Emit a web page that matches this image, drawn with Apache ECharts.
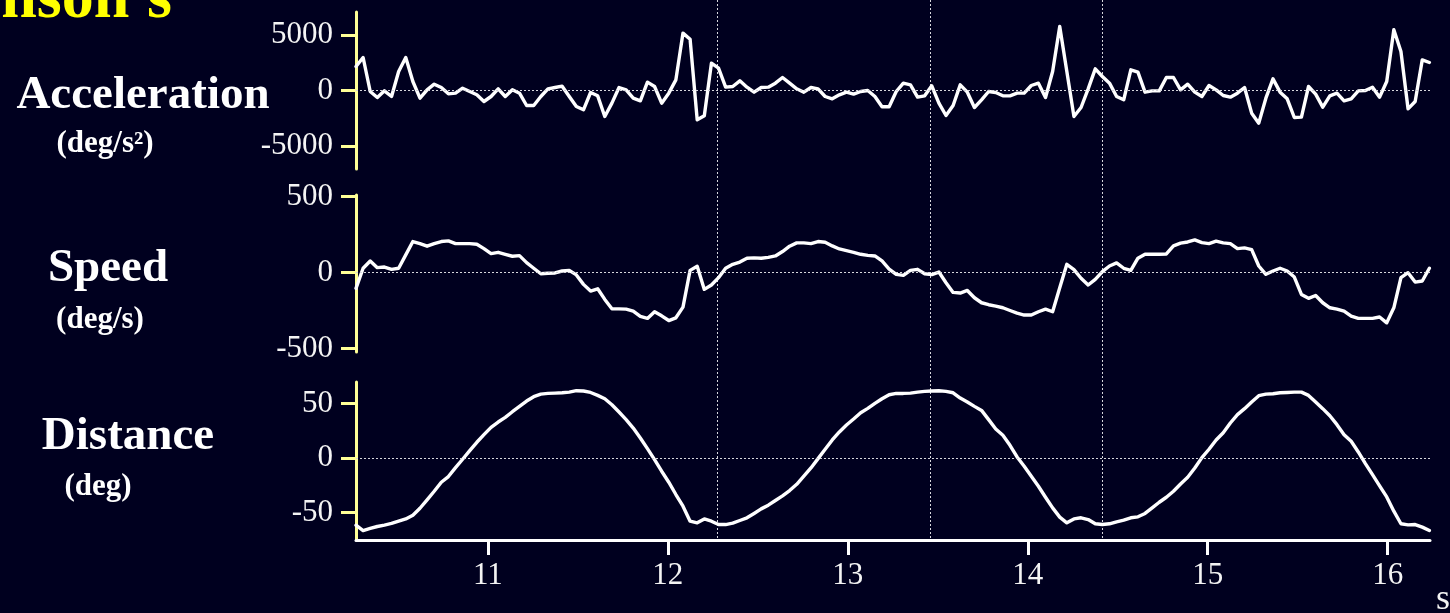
<!DOCTYPE html>
<html>
<head>
<meta charset="utf-8">
<script src="https://cdn.jsdelivr.net/npm/echarts@6/dist/echarts.min.js"></script>
<style>
  html, body { margin: 0; padding: 0; background: #00001f; }
  #chart { width: 1450px; height: 613px; }
</style>
</head>
<body>
<div id="chart"></div>
<script>
// Sampling of the recorded traces (seconds)
const START_TIME = 10.267;
const SAMPLE_STEP = 0.0395;

// Angular acceleration (deg/s^2)
const acceleration = [
  2160, 2970, -90, -630, -30, -540, 1710, 2970, 810, -690,
  60, 570, 270, -300, -240, 210, -90, -390, -990, -540,
  150, -540, 60, -240, -1350, -1350, -540, 150, 270, 390,
  -540, -1440, -1740, -180, -480, -2340, -1140, 270, 60, -690,
  -930, 750, 360, -1140, -240, 960, 5170, 4620, -2640, -2280,
  2460, 2010, 300, 360, 870, 300, -150, 270, 300, 660,
  1170, 660, 150, -150, 270, 150, -540, -750, -390, -150,
  -330, -90, 0, -540, -1470, -1470, -90, 660, 510, -600,
  -480, 420, -1140, -2250, -1350, 510, -150, -1530, -840, -90,
  -180, -480, -480, -240, -240, 450, 660, -630, 1710, 5770,
  1710, -2340, -1530, 150, 1950, 1260, 660, -540, -840, 1860,
  1650, -150, -30, -30, 1170, 1170, 60, 570, -150, -540,
  450, 60, -450, -600, -240, 270, -2040, -2940, -690, 1050,
  -150, -750, -2430, -2400, 360, -330, -1500, -480, -240, -930,
  -750, -30, 0, 300, -600, 810, 5470, 3510, -1650, -990,
  2760, 2520
];

// Angular speed (deg/s)
const speed = [
  -103, 29, 77, 33, 37, 22, 29, 117, 205, 191,
  174, 191, 205, 209, 191, 191, 191, 187, 158, 125,
  134, 121, 108, 112, 66, 29, -7, -4, -2, 11,
  15, -15, -77, -121, -106, -176, -238, -238, -240, -253,
  -288, -301, -257, -284, -315, -297, -227, 15, 42, -110,
  -81, -33, 29, 55, 70, 95, 97, 95, 101, 110,
  139, 174, 196, 196, 191, 205, 200, 176, 156, 145,
  134, 121, 114, 110, 77, 24, -11, -18, 15, 22,
  -7, -13, 4, -66, -130, -134, -117, -165, -198, -211,
  -220, -231, -249, -266, -279, -279, -257, -240, -257, -99,
  55, 20, -37, -81, -44, 7, 44, 64, 29, 15,
  95, 121, 121, 121, 123, 176, 194, 202, 216, 198,
  191, 207, 196, 191, 158, 163, 152, 44, -11, 11,
  29, 11, -29, -143, -169, -150, -198, -231, -240, -253,
  -286, -301, -301, -301, -292, -330, -231, -33, 0, -62,
  -55, 29
];

// Angular position (deg)
const distance = [
  -61.8, -66.7, -64.8, -63, -61.8, -60.2, -58.1, -56, -52.6, -46.2,
  -38.5, -30.6, -22.3, -17.1, -8.9, -1.2, 6.7, 14.4, 21.4, 28.1,
  33, 37.3, 42.5, 47.4, 52.3, 56.3, 58.7, 59.3, 59.6, 59.9,
  60.5, 61.8, 61.5, 60.2, 57.5, 54.4, 48.9, 42.2, 35.2, 27.5,
  18.3, 8.6, -1.5, -12.2, -22.3, -33.6, -44.3, -58.1, -59.6, -56,
  -58.1, -61.2, -61.2, -59.9, -57.5, -55, -51, -46.8, -43.4, -39.1,
  -34.9, -30, -24.2, -16.8, -9.2, -0.6, 8, 16.5, 23.9, 30.3,
  35.8, 41.6, 45.6, 50.2, 54.4, 58.1, 59.3, 59.3, 59.6, 60.5,
  61.2, 61.5, 61.8, 61.2, 59.9, 55, 51.4, 47.4, 43.7, 35.2,
  26.6, 20.8, 11.6, 0.9, -7.6, -16.8, -26, -36.1, -45.9, -54.4,
  -59.6, -56, -55, -56.6, -60.5, -61.2, -60.5, -58.7, -57.2, -55,
  -54.1, -51, -45.9, -40.7, -36.1, -30.6, -23.9, -17.7, -9.2, 0.3,
  8, 16.5, 23.2, 32.1, 39.8, 45.3, 51.4, 57.2, 58.7, 59,
  59.9, 60.2, 60.5, 60.5, 57.5, 51.4, 45.3, 38.8, 30.6, 21.4,
  15.3, 5.5, -5.2, -15.3, -25.7, -35.8, -48.9, -60.5, -61.5, -61.2,
  -63.6, -66.7
];

// Axis ticks
const timeTicks = [11, 12, 13, 14, 15, 16];
const accelTicks = [-5000, 0, 5000];
const speedTicks = [-500, 0, 500];
const distanceTicks = [-50, 0, 50];

// Instants marked by vertical reference lines (s)
const eventTimes = [12.272, 13.457, 14.411];

const BG = '#00001f';
const YELLOW = '#ffff96';
const SERIF = '"Liberation Serif", "Times New Roman", serif';
const TIME_MIN = 10.267, TIME_MAX = 16.235;

function toPairs(values) {
  return values.map((v, i) => [START_TIME + i * SAMPLE_STEP, v]);
}

const plainNumber = v => String(v);

function yAxisFor(gridIndex, min, max, ticks) {
  return {
    type: 'value', gridIndex, min, max,
    axisLine: { show: true, onZero: false, lineStyle: { color: YELLOW, width: 3 } },
    axisTick: { show: true, customValues: ticks, length: 15, lineStyle: { color: YELLOW, width: 3 } },
    axisLabel: {
      customValues: ticks, formatter: plainNumber, color: '#f4f4f4',
      fontFamily: SERIF, fontSize: 31, margin: 23
    },
    splitLine: { show: false }
  };
}

function xAxisFor(gridIndex, visible) {
  return {
    type: 'value', gridIndex, min: TIME_MIN, max: TIME_MAX,
    axisLine: { show: visible, onZero: false, lineStyle: { color: '#ffffff', width: 3 } },
    axisTick: { show: visible, customValues: timeTicks, length: 15, lineStyle: { color: '#ffffff', width: 3 } },
    axisLabel: {
      show: visible, customValues: timeTicks, formatter: plainNumber, color: '#f4f4f4',
      fontFamily: SERIF, fontSize: 31, margin: 20
    },
    splitLine: { show: false }
  };
}

function trace(values, axisIndex) {
  return {
    type: 'line', xAxisIndex: axisIndex, yAxisIndex: axisIndex,
    data: toPairs(values), showSymbol: false, symbol: 'none', z: 3,
    lineStyle: { color: '#ffffff', width: 3.4, join: 'round', cap: 'round' },
    markLine: {
      silent: true, symbol: 'none', label: { show: false },
      lineStyle: { color: '#d6d6dc', width: 1, type: [2, 2] },
      data: [{ yAxis: 0 }]
    }
  };
}

const chart = echarts.init(document.getElementById('chart'), null, { renderer: 'canvas' });

chart.setOption({
  backgroundColor: BG,
  animation: false,
  grid: [
    { left: 356, right: 20, top: 12, height: 157 },
    { left: 356, right: 20, top: 195, height: 157 },
    { left: 356, right: 20, top: 382, height: 158 }
  ],
  xAxis: [xAxisFor(0, false), xAxisFor(1, false), xAxisFor(2, true)],
  yAxis: [
    yAxisFor(0, -7070, 7070, accelTicks),
    yAxisFor(1, -522, 511, speedTicks),
    yAxisFor(2, -75.4, 69.8, distanceTicks)
  ],
  series: [trace(acceleration, 0), trace(speed, 1), trace(distance, 2)]
});

// Side captions, unit and vertical reference lines
const bottomY = chart.convertToPixel({ yAxisIndex: 2 }, -75.4);
const graphics = [];

eventTimes.forEach(t => {
  const x = Math.round(chart.convertToPixel({ xAxisIndex: 2 }, t)) + 0.5;
  graphics.push({
    type: 'line', z: 1, silent: true,
    shape: { x1: x, y1: 0, x2: x, y2: bottomY - 2 },
    style: { stroke: '#d6d6dc', lineWidth: 1, lineDash: [2, 2] }
  });
});

function caption(text, x, y, size) {
  return {
    type: 'text', z: 5, silent: true,
    style: {
      text, x, y, fill: '#ffffff', font: 'bold ' + size + 'px ' + SERIF,
      textAlign: 'center', textVerticalAlign: 'middle'
    }
  };
}

graphics.push(
  {
    type: 'text', z: 5, silent: true,
    style: {
      text: "nson's", x: 172, y: 0, fill: '#ffff00', font: 'bold 64px ' + SERIF,
      textAlign: 'right', textVerticalAlign: 'middle'
    }
  },
  caption('Acceleration', 143, 96, 47),
  caption('(deg/s²)', 105, 144, 31),
  caption('Speed', 108, 269, 47),
  caption('(deg/s)', 100, 320, 31),
  caption('Distance', 128, 437, 47),
  caption('(deg)', 98, 487, 31),
  {
    type: 'text', z: 5, silent: true,
    style: {
      text: 's', x: 1443, y: 600, fill: '#f4f4f4', font: '36px ' + SERIF,
      textAlign: 'center', textVerticalAlign: 'middle'
    }
  }
);

chart.setOption({ graphic: graphics });
</script>
</body>
</html>
